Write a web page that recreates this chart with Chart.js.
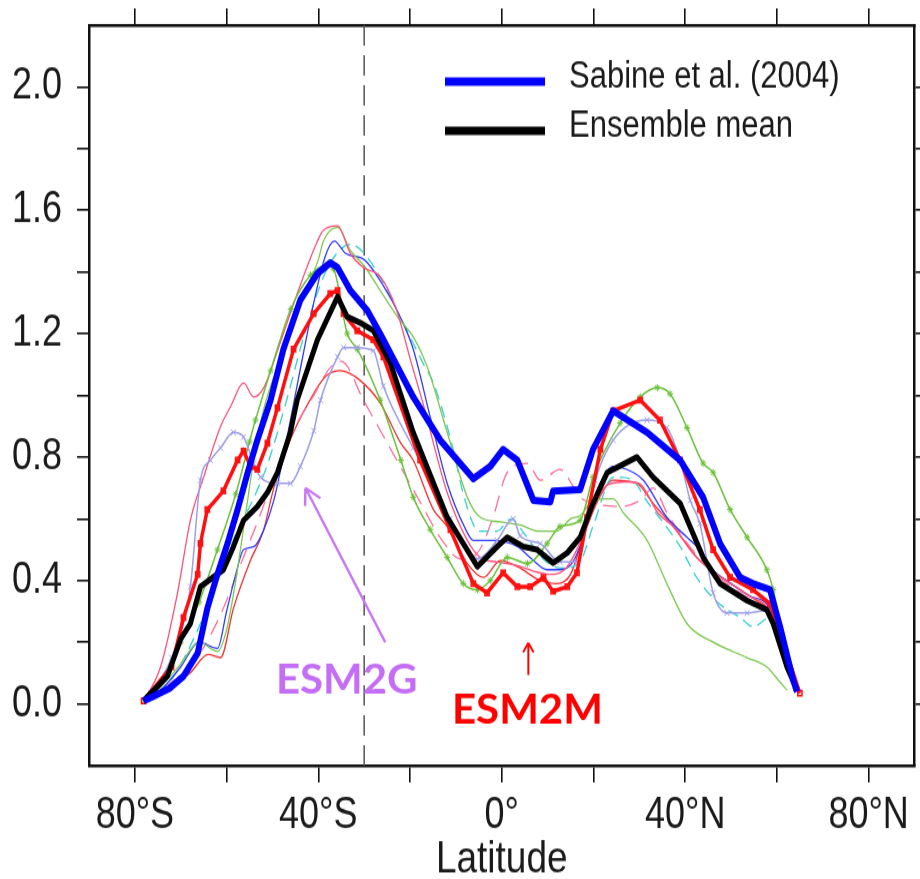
<!DOCTYPE html>
<html>
<head>
<meta charset="utf-8">
<script src="https://cdn.jsdelivr.net/npm/chart.js"></script>
<style>
  html { margin: 0; padding: 0; overflow: hidden; background: #fff; }
  body { margin: 0; padding: 0; height: 879px; background: #fff; }
  /* the source figure is stretched vertically, so the canvas is too */
  #chart { display: block; transform: scaleY(1.2); transform-origin: 0 0; }
</style>
</head>
<body>
<canvas id="chart" width="920" height="733"></canvas>
<script>
const STRETCH = 1.2;
const FONT = '"Liberation Sans", Arial, sans-serif';

// axes
const xTickVals = [-80, -60, -40, -20, 0, 20, 40, 60, 80];
const xLabelVals = [-80, -40, 0, 40, 80];
const xLabelText = ['80°S', '40°S', '0°', '40°N', '80°N'];
const yTickVals = [0, 0.2, 0.4, 0.6, 0.8, 1.0, 1.2, 1.4, 1.6, 1.8, 2.0];
const yLabelVals = [0, 0.4, 0.8, 1.2, 1.6, 2.0];
const refLat = -30;

// Sabine et al. (2004)
const sabineLat = [-78.1,-76.6,-72.5,-69.4,-66.3,-64.2,-62,-59.8,-57.6,-55.4,-53.3,-50.4,-47.6,-43.9,-40.2,-37.4,-35.8,-33,-29.3,-26.5,-19.3,-13.4,-6.2,-2.5,0.3,3.4,6.9,10.6,11.2,17.1,19.9,24.3,31.7,38.9,43.9,47.6,52,54.8,58.5,60.7,63.5,64.4];
const sabineVal = [0.01,0.02,0.05,0.09,0.165,0.31,0.42,0.52,0.63,0.75,0.855,0.985,1.15,1.31,1.395,1.43,1.415,1.34,1.275,1.2,0.995,0.855,0.73,0.77,0.825,0.79,0.66,0.655,0.69,0.695,0.825,0.95,0.88,0.79,0.67,0.52,0.41,0.39,0.37,0.25,0.08,0.04];

// ensemble mean
const ensLat = [-78.1,-72.9,-70,-67.9,-65.7,-60.7,-58.5,-56.3,-53.3,-51.1,-48.9,-46.1,-44.6,-40.2,-35.8,-33.7,-30.8,-28,-24.3,-19.3,-11.9,-5.3,-1,1.2,4.7,7.7,11.2,14.3,17.1,19.9,23,29.5,33,38.9,43.9,47.6,53.5,57.8,59.2,62.2,64.4];
const ensVal = [0.01,0.09,0.21,0.26,0.38,0.435,0.51,0.595,0.64,0.685,0.75,0.88,0.985,1.18,1.32,1.255,1.235,1.21,1.105,0.88,0.605,0.445,0.51,0.54,0.51,0.5,0.457,0.49,0.54,0.65,0.75,0.8,0.735,0.65,0.475,0.39,0.335,0.305,0.26,0.12,0.045];

// ESM2M
const esm2mLat = [-78.1,-72,-69.4,-66.3,-65.7,-64.2,-60.7,-57.6,-56.3,-54.8,-53.3,-51.1,-48.9,-45.4,-41,-37.4,-35.8,-34.5,-31.5,-28,-25.8,-17.8,-11.2,-6.2,-3.2,0.3,3.4,6.2,9.1,11.2,14.3,16.4,18.6,21.5,24.3,30.2,34.5,38.9,43.2,46.1,49.8,54.8,58.5,60.7,65];
const esm2mVal = [0.01,0.12,0.28,0.42,0.52,0.63,0.69,0.79,0.82,0.77,0.76,0.845,0.96,1.15,1.265,1.33,1.34,1.265,1.21,1.18,1.125,0.79,0.565,0.39,0.36,0.425,0.38,0.38,0.41,0.365,0.38,0.425,0.605,0.825,0.95,0.985,0.92,0.79,0.63,0.5,0.41,0.37,0.325,0.23,0.035];

// ESM2G
const esm2gLat = [-76.6,-72,-67.9,-65.7,-63.5,-61.3,-58.5,-56.3,-54.1,-52.6,-48.9,-46.1,-43.9,-41,-39.5,-35.8,-34.5,-31.5,-28,-25.8,-19.3,-11.2,-5.3,-1,2.5,4,8.4,12.7,16.4,20.4,24.3,31.7,36,38.9,41.1,43.2,46.1,49.1,53.5,58.5,62.2,64.4];
const esm2gVal = [0.035,0.15,0.38,0.725,0.79,0.83,0.88,0.865,0.78,0.735,0.715,0.715,0.77,0.885,0.985,1.125,1.155,1.155,1.145,1.03,0.83,0.6,0.47,0.53,0.6,0.545,0.52,0.46,0.46,0.725,0.855,0.92,0.895,0.79,0.66,0.585,0.36,0.295,0.295,0.305,0.145,0.045];

// other models
const greenStarLat = [-78,-75,-70,-66,-62,-58,-55,-53.7,-50.4,-46,-41.7,-38.5,-36.7,-33.7,-31.5,-26.5,-22,-19.3,-15.6,-11.9,-8.4,-5.3,-2.5,1.2,5.6,9.9,12.7,17.1,19.9,25.8,30.2,33.9,36.7,40.4,43.9,46.1,49.8,53.5,57.8,59.2,61.5,64];
const greenStarVal = [0.01,0.06,0.2,0.33,0.5,0.68,0.85,0.92,1.08,1.28,1.39,1.42,1.41,1.2,1.15,0.985,0.79,0.67,0.565,0.475,0.39,0.37,0.4,0.475,0.455,0.52,0.575,0.595,0.735,0.91,0.995,1.025,1.005,0.895,0.78,0.75,0.63,0.54,0.435,0.37,0.2,0.05];

const pinkThinLat = [-78,-74.4,-70.7,-67.9,-65,-61.3,-59.1,-56.3,-54.1,-51.9,-48.9,-44.6,-40.2,-38.9,-35.8,-33,-30.2,-26.5,-23,-20,-17.1,-11.9,-7.5,-4.7,-1,3,7,11,14,17,20,23,27,30,34,37.4,42.5,46,50,54,58,61,64];
const pinkThinVal = [0.01,0.12,0.36,0.595,0.735,0.9,0.965,1.04,0.995,1.025,1.145,1.33,1.5,1.535,1.55,1.46,1.415,1.385,1.28,1.12,0.97,0.685,0.53,0.475,0.46,0.45,0.43,0.42,0.44,0.52,0.64,0.71,0.72,0.715,0.62,0.575,0.475,0.43,0.39,0.35,0.31,0.2,0.04];

const greenThinLat = [-78,-74,-70,-66,-62,-60,-58,-56,-54,-52,-48,-44,-40,-38.9,-35.8,-33,-30,-26.5,-22.5,-19.3,-16.2,-11.9,-7.5,-4.7,-0.3,4,8,12,15,17.1,20,24.3,26.5,31.7,36,40.4,46.1,53.5,57.8,60.7,62.2];
const greenThinVal = [0.01,0.06,0.13,0.2,0.17,0.24,0.4,0.6,0.8,0.95,1.13,1.3,1.44,1.5,1.545,1.47,1.42,1.34,1.25,1.19,1.09,0.88,0.67,0.605,0.59,0.58,0.56,0.56,0.6,0.61,0.66,0.665,0.62,0.53,0.39,0.26,0.2,0.15,0.12,0.07,0.045];

const blueThinLat = [-78,-74,-70,-66,-62,-60,-58,-56.3,-54,-52,-49.7,-47,-44,-41,-38.5,-36.5,-34,-30,-26,-22,-19.3,-15.6,-11.9,-8,-6.2,-1.8,3.4,6.5,9.9,12.7,15.5,18,21,24.3,28.7,30.9,36,40.4,43.2,46,50,54,58,61,64];
const blueThinVal = [0.01,0.05,0.12,0.2,0.18,0.3,0.42,0.5,0.51,0.56,0.66,0.85,1.08,1.3,1.45,1.5,1.46,1.44,1.36,1.25,1.15,0.93,0.715,0.57,0.53,0.53,0.51,0.47,0.435,0.435,0.46,0.55,0.7,0.77,0.75,0.725,0.605,0.54,0.5,0.435,0.39,0.35,0.32,0.21,0.04];

const cyanLat = [-78,-72,-66,-62,-58,-54,-51,-47,-43,-39,-36,-33,-30,-26,-21,-17,-14.9,-11,-8,-5,-1,2,5,9,13,17,20,24.3,28,32,38.9,42.5,47,52,54.8,58.5,61,64];
const cyanVal = [0.01,0.08,0.25,0.4,0.55,0.67,0.78,0.98,1.2,1.38,1.46,1.49,1.46,1.37,1.22,1.1,1.04,0.85,0.66,0.56,0.56,0.6,0.55,0.47,0.44,0.46,0.58,0.735,0.73,0.65,0.51,0.41,0.33,0.28,0.25,0.28,0.2,0.04];

const pinkDashLat = [-78,-72,-66,-61,-57,-53,-49,-45,-41,-37.4,-35,-30,-24,-18,-13,-9,-5.3,-2,1.2,5.6,8.4,12.7,17.1,20,25.8,30.2,33,36,40,45,50,55,58,61,64];
const pinkDashVal = [0.01,0.07,0.16,0.3,0.45,0.6,0.76,0.9,1.0,1.09,1.11,0.98,0.82,0.66,0.53,0.47,0.49,0.6,0.75,0.78,0.725,0.76,0.67,0.65,0.64,0.66,0.7,0.62,0.53,0.44,0.38,0.33,0.3,0.2,0.04];

const redThinLat = [-78,-72,-68,-64,-61.3,-58.5,-54.8,-52,-49.7,-46,-42,-38.5,-35.2,-31,-26.5,-22,-19.3,-14.9,-11.9,-7.5,-4,-0.3,3.4,8.4,12,15,18,21,24.3,29.5,33,37.4,42.5,47,52,56,59,61.5,64];
const redThinVal = [0.01,0.06,0.1,0.16,0.15,0.31,0.465,0.56,0.7,0.86,0.98,1.06,1.08,1.05,0.975,0.845,0.79,0.63,0.575,0.455,0.41,0.465,0.445,0.4,0.39,0.42,0.55,0.66,0.725,0.715,0.65,0.575,0.475,0.42,0.37,0.33,0.29,0.17,0.04];

// annotations added on top of the figure
const noteText = ['ESM2G', 'ESM2M'];
const noteColor = ['#c46ef6', '#ff0000'];
const noteLat = [-33.8, 5.6];
const noteVal = [0.078, -0.019];
const arrowFrom = [[-25.4, 0.20], [5.8, 0.094]];
const arrowTo = [[-42.8, 0.70], [5.8, 0.198]];

const pts = (lat, val) => lat.map((x, i) => ({ x: x, y: val[i] }));

function thin(label, lat, val, color, dash) {
  return { label: label, data: pts(lat, val), borderColor: color, borderWidth: 1.3,
           borderDash: dash || [], pointRadius: 0, cubicInterpolationMode: 'monotone' };
}

const overlay = {
  id: 'overlay',
  afterDraw(chart) {
    const { ctx, chartArea: a, scales: { x, y } } = chart;

    // legend (first two datasets)
    ctx.save();
    ctx.font = '31px ' + FONT;
    ctx.textBaseline = 'middle';
    ctx.textAlign = 'left';
    [0, 1].forEach((di, i) => {
      const ds = chart.data.datasets[di];
      const ly = a.top + 47 + i * 41;
      ctx.strokeStyle = ds.borderColor;
      ctx.lineWidth = 7;
      ctx.beginPath();
      ctx.moveTo(445, ly);
      ctx.lineTo(545, ly);
      ctx.stroke();
      ctx.fillStyle = '#1a1a1a';
      ctx.fillText(ds.label, 569, ly - 4);
    });
    ctx.restore();

    // model labels and arrows, not stretched
    ctx.save();
    ctx.scale(1, 1 / STRETCH);
    const P = (lat, v) => [x.getPixelForValue(lat), y.getPixelForValue(v) * STRETCH];
    noteText.forEach((t, i) => {
      ctx.fillStyle = noteColor[i];
      ctx.font = 'bold 42px Lato, "Open Sans", sans-serif';
      ctx.textAlign = 'center';
      ctx.textBaseline = 'middle';
      const [tx, ty] = P(noteLat[i], noteVal[i]);
      ctx.fillText(t, tx, ty);

      const [x0, y0] = P(arrowFrom[i][0], arrowFrom[i][1]);
      const [x1, y1] = P(arrowTo[i][0], arrowTo[i][1]);
      const head = i === 0 ? 18 : 11;
      const ang = Math.atan2(y1 - y0, x1 - x0);
      ctx.strokeStyle = i === 0 ? '#c878f5' : '#ff0000';
      ctx.lineWidth = i === 0 ? 2.5 : 2;
      ctx.beginPath();
      ctx.moveTo(x0, y0);
      ctx.lineTo(x1, y1);
      [-1, 1].forEach(s => {
        ctx.moveTo(x1, y1);
        ctx.lineTo(x1 - head * Math.cos(ang + s * 0.5), y1 - head * Math.sin(ang + s * 0.5));
      });
      ctx.stroke();
    });
    ctx.restore();
  }
};

const axisGrid = (len) => ({ drawOnChartArea: false, drawTicks: true, tickLength: len, color: '#111', lineWidth: 1.6 });
const axisBorder = { display: true, color: '#111', width: 2.5 };
const fixY = (w) => (s) => { s.width = w; s.paddingTop = 0; s.paddingBottom = 0; };
const fixX = (h) => (s) => { s.height = h; s.paddingLeft = 0; s.paddingRight = 0; };

new Chart(document.getElementById('chart'), {
  type: 'line',
  data: {
    datasets: [
      { label: 'Sabine et al. (2004)', data: pts(sabineLat, sabineVal), borderColor: '#0000ff',
        borderWidth: 6, pointRadius: 0, borderJoinStyle: 'round' },
      { label: 'Ensemble mean', data: pts(ensLat, ensVal), borderColor: '#000000',
        borderWidth: 5, pointRadius: 0, borderJoinStyle: 'round' },
      { label: 'ESM2M', data: pts(esm2mLat, esm2mVal), borderColor: '#ff1010', borderWidth: 3.5,
        pointStyle: 'rect', pointRadius: 3, pointBorderWidth: 1.5,
        pointBorderColor: '#ff1010', pointBackgroundColor: 'rgba(255,255,255,0)' },
      { label: 'ESM2G', data: pts(esm2gLat, esm2gVal), borderColor: '#9d9de8', borderWidth: 1.5,
        pointStyle: 'crossRot', pointRadius: 3.5, pointBorderWidth: 1, pointBorderColor: '#9d9de8',
        cubicInterpolationMode: 'monotone' },
      { label: 'Model A', data: pts(greenStarLat, greenStarVal), borderColor: '#6cc03a', borderWidth: 1.5,
        pointStyle: 'star', pointRadius: 3, pointBorderWidth: 1, pointBorderColor: '#6cc03a',
        cubicInterpolationMode: 'monotone' },
      thin('Model B', pinkThinLat, pinkThinVal, '#ff4f7a'),
      thin('Model C', greenThinLat, greenThinVal, '#7cc850'),
      thin('Model D', blueThinLat, blueThinVal, '#2f3cff'),
      thin('Model E', cyanLat, cyanVal, '#35d0d0', [10, 6]),
      thin('Model F', pinkDashLat, pinkDashVal, '#ff6f9a', [14, 8]),
      thin('Model G', redThinLat, redThinVal, '#f03030'),
      { label: '30°S', data: [{ x: refLat, y: -0.2 }, { x: refLat, y: 2.2 }], borderColor: '#555',
        borderWidth: 1.5, borderDash: [17, 8], pointRadius: 0 }
    ]
  },
  options: {
    responsive: false,
    devicePixelRatio: 1,
    animation: false,
    events: [],
    layout: { padding: 0 },
    plugins: { legend: { display: false }, tooltip: { enabled: false } },
    scales: {
      x: {
        type: 'linear', position: 'bottom', min: -90, max: 90,
        afterBuildTicks: s => { s.ticks = xTickVals.map(v => ({ value: v })); },
        afterFit: fixX(95),
        ticks: {
          autoSkip: false, maxRotation: 0, padding: 6, color: '#1a1a1a',
          font: { family: FONT, size: 36 },
          callback: v => { const i = xLabelVals.indexOf(v); return i < 0 ? '' : xLabelText[i]; }
        },
        grid: axisGrid(14), border: axisBorder,
        title: { display: true, text: 'Latitude', color: '#1a1a1a',
                 font: { family: FONT, size: 37, lineHeight: 0.9 }, padding: { top: 0, bottom: 0 } }
      },
      x2: {
        type: 'linear', position: 'top', min: -90, max: 90,
        afterBuildTicks: s => { s.ticks = xTickVals.map(v => ({ value: v })); },
        afterFit: fixX(21),
        ticks: { display: false },
        grid: axisGrid(14), border: axisBorder
      },
      y: {
        type: 'linear', position: 'left', min: -0.2, max: 2.2,
        afterBuildTicks: s => { s.ticks = yTickVals.map(v => ({ value: v })); },
        afterFit: fixY(89),
        ticks: {
          autoSkip: false, padding: 15, color: '#1a1a1a',
          font: { family: FONT, size: 36 },
          callback: v => yLabelVals.some(l => Math.abs(l - v) < 1e-6) ? v.toFixed(1) : ''
        },
        grid: axisGrid(12), border: axisBorder
      },
      y2: {
        type: 'linear', position: 'right', min: -0.2, max: 2.2,
        afterBuildTicks: s => { s.ticks = yTickVals.map(v => ({ value: v })); },
        afterFit: fixY(5),
        ticks: { display: false },
        grid: axisGrid(12), border: axisBorder
      }
    }
  },
  plugins: [overlay]
});
</script>
</body>
</html>
